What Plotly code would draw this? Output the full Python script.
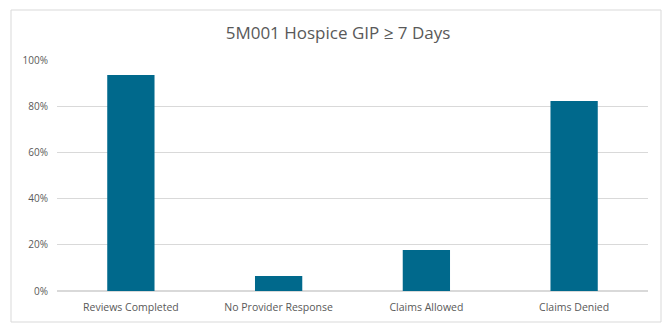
import plotly.graph_objects as go

categories = ["Reviews Completed", "No Provider Response", "Claims Allowed", "Claims Denied"]
values = [0.935, 0.065, 0.177, 0.823]
tick_vals = [0, 0.2, 0.4, 0.6, 0.8, 1.0]
tick_text = ["0%", "20%", "40%", "60%", "80%", "100%"]

fig = go.Figure(go.Bar(x=categories, y=values, marker_color="#00698C", marker_line_width=0))

L, R, T, B = 57, 24, 60, 42
pw, ph = 672 - L - R, 333 - T - B

fig.update_layout(
    width=672, height=333,
    margin=dict(l=L, r=R, t=T, b=B),
    paper_bgcolor="white", plot_bgcolor="white",
    bargap=0.68,
    font=dict(family="Open Sans, Liberation Sans, sans-serif", color="#595959", size=10),
    title=dict(text="5M001 Hospice GIP ≥ 7 Days", x=0.503, xref="container", xanchor="center",
               y=1 - 33 / 333, yref="container", yanchor="middle",
               font=dict(size=17, color="#595959")),
    showlegend=False,
    xaxis=dict(showgrid=False, showline=False, ticks="", ticklabelstandoff=8,
               tickfont=dict(size=10.5, color="#595959")),
    yaxis=dict(range=[0, 1.0], tickvals=tick_vals, ticktext=tick_text, showgrid=True,
               gridcolor="#D9D9D9", gridwidth=1, zeroline=True, zerolinecolor="#D9D9D9",
               showline=False, ticks="", ticklabelstandoff=8, tickfont=dict(size=10, color="#595959")),
    shapes=[dict(type="rect", xref="paper", yref="paper",
                 x0=(11 - L) / pw, x1=(661 - L) / pw,
                 y0=(291 - 322) / ph, y1=(291 - 10) / ph,
                 line=dict(color="#D9D9D9", width=1), fillcolor="rgba(0,0,0,0)", layer="below")],
)

fig.write_html("out.html")
